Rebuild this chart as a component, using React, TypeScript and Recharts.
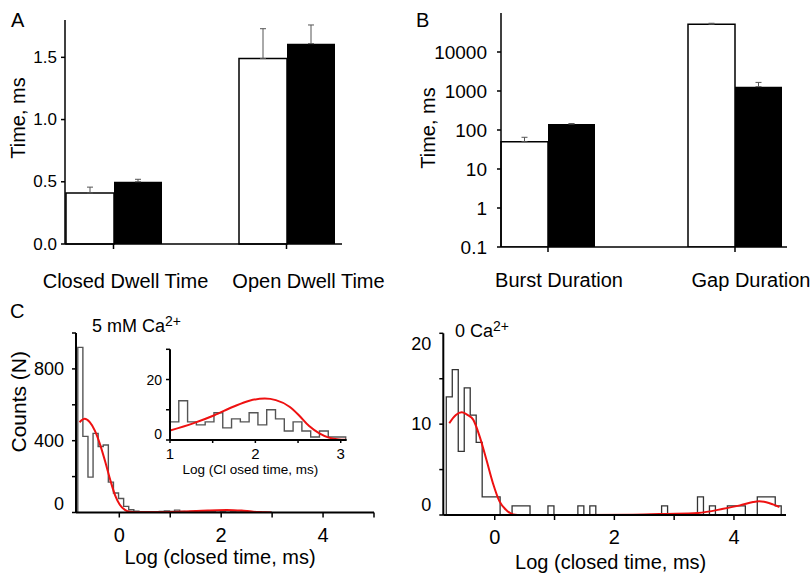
import React from 'react';
import { BarChart, Bar, XAxis, YAxis, ErrorBar, LineChart, Line } from 'recharts';

const FONT = '"Liberation Sans", Arial, Helvetica, sans-serif';

// Panel A: dwell times (ms)
const dwellCategories = ['Closed Dwell Time', 'Open Dwell Time'];
const dwellWhite = [0.41, 1.49];
const dwellWhiteErr = [0.047, 0.24];
const dwellBlack = [0.5, 1.61];
const dwellBlackErr = [0.02, 0.15];
const dwellTicks = [0, 0.5, 1, 1.5];

// Panel B: burst / gap durations (ms), log axis
const burstCategories = ['Burst Duration', 'Gap Duration'];
const burstWhite = [50, 51500];
const burstWhiteErr = [15, 3000];
const burstBlack = [142, 1290];
const burstBlackErr = [4, 370];
const burstTicks = [0.1, 1, 10, 100, 1000, 10000];

// Panel C left: 5 mM Ca2+ closed time histogram (0.1 log bins)
const caBinStart = -0.815;
const caBinWidth = 0.1;
const caCounts = [
  920, 424, 197, 441, 368, 376, 169, 109, 78, 34, 15, 7, 5, 4, 4, 5, 6, 8,
  6, 13, 6, 5, 6, 9, 4, 7, 6, 9, 5, 10, 7, 3, 6, 3, 1, 3, 1, 1,
];
const caFitX = [-0.78, -0.68, -0.58, -0.48, -0.38, -0.28, -0.18, -0.08, 0.01, 0.11, 0.21, 0.4, 0.7, 1.0, 1.27, 1.52, 1.74, 1.93, 2.11, 2.24, 2.4, 2.51, 2.63, 2.75, 2.86, 2.98];
const caFitY = [503, 522, 503, 456, 381, 287, 184, 94, 43, 15, 4, 1, 1.5, 3.1, 5.5, 8.2, 11, 13, 13.7, 13.2, 11, 8.2, 4.6, 2.2, 0.8, 0.2];

// inset (1 to 3 log units)
const insetBinStart = 1.0;
const insetBinWidth = 0.103;
const insetCounts = [6, 13, 6, 5, 6, 9, 4, 7, 6, 9, 5, 10, 7, 3, 6, 3, 1, 3, 1, 1];
const insetFitX = [1.0, 1.27, 1.52, 1.74, 1.93, 2.11, 2.24, 2.4, 2.51, 2.63, 2.75, 2.86, 2.98, 3.06];
const insetFitY = [3.1, 5.5, 8.2, 11, 13, 13.7, 13.2, 11, 8.2, 4.6, 2.2, 0.8, 0.2, 0.1];

// Panel C right: 0 Ca2+
const zeroBinStart = -0.81;
const zeroBinWidth = 0.1;
const zeroCounts = [
  13, 16, 7, 14, 11, 8, 2, 2, 2, 0, 0, 1, 1, 1, 0, 0, 0, 1, 0, 0, 0, 0, 1, 0, 1,
  0, 0, 0, 0, 0, 0, 0, 0, 0, 0, 0, 1, 0, 0, 0, 0, 0, 2, 0, 1, 0, 0, 1, 1, 1, 0, 0,
  2, 2, 2, 1,
];
const zeroFitX = [-0.76, -0.65, -0.55, -0.45, -0.36, -0.25, -0.14, -0.03, 0.08, 0.2, 0.31, 0.45, 1.5, 2.31, 2.87, 3.4, 3.82, 4.1, 4.32, 4.42, 4.54, 4.65, 4.76];
const zeroFitY = [10.1, 11.0, 11.3, 11.0, 10.5, 8.6, 6.1, 3.5, 1.5, 0.5, 0.07, 0, 0, 0.03, 0.12, 0.23, 0.68, 1.06, 1.43, 1.5, 1.4, 1.17, 0.88];

const dwellData = dwellCategories.map((name, i) => ({
  name,
  white: dwellWhite[i],
  whiteErr: [0, dwellWhiteErr[i]],
  black: dwellBlack[i],
  blackErr: [0, dwellBlackErr[i]],
}));

const burstData = burstCategories.map((name, i) => ({
  name,
  white: burstWhite[i],
  whiteErr: [0, burstWhiteErr[i]],
  black: burstBlack[i],
  blackErr: [0, burstBlackErr[i]],
}));

function histPoints(counts: number[], start: number, width: number) {
  const pts = [{ x: start, y: 0 }];
  counts.forEach((c, i) => pts.push({ x: start + i * width, y: c }));
  pts.push({ x: start + counts.length * width, y: 0 });
  return pts;
}

const toPoints = (xs: number[], ys: number[]) => xs.map((x, i) => ({ x, y: ys[i] }));

const caHist = histPoints(caCounts, caBinStart, caBinWidth);
const caFit = toPoints(caFitX, caFitY);
const insetHist = histPoints(insetCounts, insetBinStart, insetBinWidth);
const insetFit = toPoints(insetFitX, insetFitY);
const zeroHist = histPoints(zeroCounts, zeroBinStart, zeroBinWidth);
const zeroFit = toPoints(zeroFitX, zeroFitY);

function CategoryTick(props: any) {
  const { x, y, payload, index, offsets, fontSize } = props;
  return (
    <text x={x + offsets[index]} y={y} dy="0.71em" textAnchor="middle" fontSize={fontSize} fontFamily={FONT} fill="#000">
      {payload.value}
    </text>
  );
}

function SparseYTick(props: any) {
  const { x, y, payload, show, shift, fontSize, format } = props;
  if (show && !show.includes(payload.value)) return <g />;
  const dy = (shift && shift[payload.value]) || 0;
  return (
    <text x={x} y={y + dy} textAnchor="end" dominantBaseline="central" fontSize={fontSize} fontFamily={FONT} fill="#000">
      {format ? format(payload.value) : payload.value}
    </text>
  );
}

function SparseXTick(props: any) {
  const { x, y, payload, show, fontSize } = props;
  if (show && !show.includes(payload.value)) return <g />;
  return (
    <text x={x} y={y} dy="0.71em" textAnchor="middle" fontSize={fontSize} fontFamily={FONT} fill="#000">
      {payload.value}
    </text>
  );
}

// axis title placed relative to the axis box
function AxisTitle(props: any) {
  const { viewBox, text, vertical, ax = 0, ay = 0, fontSize } = props;
  const { x, y, width, height } = viewBox;
  if (vertical) {
    const cx = x + ax;
    const cy = y + height / 2 + ay;
    return (
      <text x={cx} y={cy} transform={`rotate(-90 ${cx} ${cy})`} textAnchor="middle" dominantBaseline="central" fontSize={fontSize} fontFamily={FONT} fill="#000">
        {text}
      </text>
    );
  }
  const cx = x + width / 2 + ax;
  const cy = y + ay;
  return (
    <text x={cx} y={cy} textAnchor="middle" dominantBaseline="central" fontSize={fontSize} fontFamily={FONT} fill="#000">
      {text}
    </text>
  );
}

const thin = { stroke: '#000', strokeWidth: 1.5 };
const thick = { stroke: '#000', strokeWidth: 2 };

export default function App() {
  return (
    <div style={{ position: 'absolute', left: 0, top: 0, width: 812, height: 574, background: '#fff', fontFamily: FONT }}>
      {/* A */}
      <div style={{ position: 'absolute', left: 0, top: 0 }}>
        <BarChart width={400} height={300} data={dwellData} margin={{ top: 20, right: 58, bottom: 16, left: 5 }} barCategoryGap={39} barGap={0}>
          <XAxis
            dataKey="name"
            interval={0}
            padding={{ left: -38, right: -31 }}
            height={40}
            axisLine={thin}
            tickLine={thin}
            tickSize={5}
            tickMargin={25}
            tick={<CategoryTick offsets={[12, 22]} fontSize={20} />}
          />
          <YAxis
            type="number"
            domain={[0, 1.8]}
            ticks={dwellTicks}
            width={60}
            axisLine={thin}
            tickLine={thin}
            tickSize={4}
            tickMargin={4}
            tick={<SparseYTick fontSize={17} format={(v: number) => v.toFixed(1)} />}
            label={<AxisTitle text="Time, ms" vertical ax={13.3} ay={-14} fontSize={20} />}
          />
          <Bar dataKey="white" fill="#fff" stroke="#000" strokeWidth={1.5} isAnimationActive={false}>
            <ErrorBar dataKey="whiteErr" width={3} stroke="#555" strokeWidth={1} direction="y" />
          </Bar>
          <Bar dataKey="black" fill="#000" isAnimationActive={false}>
            <ErrorBar dataKey="blackErr" width={3} stroke="#555" strokeWidth={1} direction="y" />
          </Bar>
        </BarChart>
      </div>

      {/* B */}
      <div style={{ position: 'absolute', left: 400, top: 0 }}>
        <BarChart width={412} height={300} data={burstData} margin={{ top: 13, right: 25, bottom: 13, left: 31 }} barCategoryGap={46.5} barGap={0}>
          <XAxis
            dataKey="name"
            interval={0}
            padding={{ left: -46.5, right: -41.5 }}
            height={40}
            axisLine={thin}
            tickLine={thin}
            tickSize={5}
            tickMargin={21}
            tick={<CategoryTick offsets={[11, 16]} fontSize={20} />}
          />
          <YAxis
            type="number"
            scale="log"
            domain={[0.1, 100000]}
            allowDataOverflow
            ticks={burstTicks}
            width={70}
            axisLine={thin}
            tickLine={thin}
            tickSize={4}
            tickMargin={10}
            tick={<SparseYTick fontSize={19} format={(v: number) => String(v)} />}
            label={<AxisTitle text="Time, ms" vertical ax={-3} ay={-2} fontSize={20} />}
          />
          <Bar dataKey="white" fill="#fff" stroke="#000" strokeWidth={1.5} isAnimationActive={false}>
            <ErrorBar dataKey="whiteErr" width={3} stroke="#555" strokeWidth={1} direction="y" />
          </Bar>
          <Bar dataKey="black" fill="#000" isAnimationActive={false}>
            <ErrorBar dataKey="blackErr" width={3} stroke="#555" strokeWidth={1} direction="y" />
          </Bar>
        </BarChart>
      </div>

      {/* C left: 5 mM Ca2+ */}
      <div style={{ position: 'absolute', left: 0, top: 300 }}>
        <LineChart width={400} height={274} margin={{ top: 33, right: 26, bottom: 26.5, left: 20 }}>
          <XAxis
            type="number"
            dataKey="x"
            domain={[-0.85, 5]}
            allowDataOverflow
            ticks={[0, 1, 2, 3, 4, 5]}
            height={35}
            axisLine={thick}
            tickLine={thin}
            tickSize={5}
            tickMargin={10}
            tick={<SparseXTick show={[0, 2, 4]} fontSize={20} />}
            label={<AxisTitle text="Log (closed time, ms)" ax={-5} ay={44} fontSize={20} />}
          />
          <YAxis
            type="number"
            domain={[0, 1000]}
            allowDataOverflow
            ticks={[0, 200, 400, 600, 800, 1000]}
            width={56}
            axisLine={thick}
            tickLine={thin}
            tickSize={4}
            tickMargin={8}
            tick={<SparseYTick show={[0, 400, 800]} shift={{ 0: -9 }} fontSize={18} />}
            label={<AxisTitle text="Counts (N)" vertical ax={-1.7} ay={-21} fontSize={21} />}
          />
          <Line data={caHist} dataKey="y" type="stepAfter" stroke="#555" strokeWidth={1.4} dot={false} isAnimationActive={false} />
          <Line data={caFit} dataKey="y" type="monotone" stroke="#ee1111" strokeWidth={2} dot={false} isAnimationActive={false} />
        </LineChart>
      </div>

      {/* inset */}
      <div style={{ position: 'absolute', left: 120, top: 340 }}>
        <LineChart width={240} height={145} margin={{ top: 9.3, right: 13.3, bottom: 15, left: 10 }}>
          <XAxis
            type="number"
            dataKey="x"
            domain={[1, 3.07]}
            allowDataOverflow
            ticks={[1, 1.5, 2, 2.5, 3]}
            height={30}
            axisLine={thick}
            tickLine={thin}
            tickSize={3}
            tickMargin={5}
            tick={<SparseXTick show={[1, 2, 3]} fontSize={15} />}
            label={<AxisTitle text="Log (Cl osed time, ms)" ax={-8} ay={29} fontSize={13.5} />}
          />
          <YAxis
            type="number"
            domain={[0, 30]}
            allowDataOverflow
            ticks={[0, 10, 20, 30]}
            width={40}
            axisLine={thick}
            tickLine={thin}
            tickSize={4}
            tickMargin={4}
            tick={<SparseYTick show={[0, 20]} shift={{ 0: -6.5 }} fontSize={14} />}
          />
          <Line data={insetHist} dataKey="y" type="stepAfter" stroke="#555" strokeWidth={1.4} dot={false} isAnimationActive={false} />
          <Line data={insetFit} dataKey="y" type="monotone" stroke="#ee1111" strokeWidth={2} dot={false} isAnimationActive={false} />
        </LineChart>
      </div>

      {/* C right: 0 Ca2+ */}
      <div style={{ position: 'absolute', left: 400, top: 300 }}>
        <LineChart width={412} height={274} margin={{ top: 33.3, right: 26, bottom: 24, left: 3.3 }}>
          <XAxis
            type="number"
            dataKey="x"
            domain={[-0.86, 4.87]}
            allowDataOverflow
            ticks={[0, 1, 2, 3, 4]}
            height={35}
            axisLine={thick}
            tickLine={thin}
            tickSize={5}
            tickMargin={10}
            tick={<SparseXTick show={[0, 2, 4]} fontSize={20} />}
            label={<AxisTitle text="Log (closed time, ms)" ax={-4} ay={46.7} fontSize={20} />}
          />
          <YAxis
            type="number"
            domain={[0, 20]}
            allowDataOverflow
            ticks={[0, 5, 10, 15, 20]}
            width={40}
            axisLine={thick}
            tickLine={thin}
            tickSize={4}
            tickMargin={8}
            tick={<SparseYTick show={[0, 10, 20]} shift={{ 0: -10, 20: 11 }} fontSize={18} />}
          />
          <Line data={zeroHist} dataKey="y" type="stepAfter" stroke="#333" strokeWidth={1.3} dot={false} isAnimationActive={false} />
          <Line data={zeroFit} dataKey="y" type="monotone" stroke="#ee1111" strokeWidth={2} dot={false} isAnimationActive={false} />
        </LineChart>
      </div>

      {/* panel letters and condition labels */}
      <svg width={812} height={574} style={{ position: 'absolute', left: 0, top: 0, pointerEvents: 'none' }} fontFamily={FONT} fill="#000">
        <text x={11} y={27} fontSize={20}>A</text>
        <text x={416} y={27} fontSize={20}>B</text>
        <text x={10} y={318} fontSize={20}>C</text>
        <text x={92} y={331.5} fontSize={18}>
          5 mM Ca<tspan dy={-6} fontSize={14}>2+</tspan>
        </text>
        <text x={455} y={337} fontSize={18}>
          0 Ca<tspan dy={-6} fontSize={14}>2+</tspan>
        </text>
      </svg>
    </div>
  );
}
